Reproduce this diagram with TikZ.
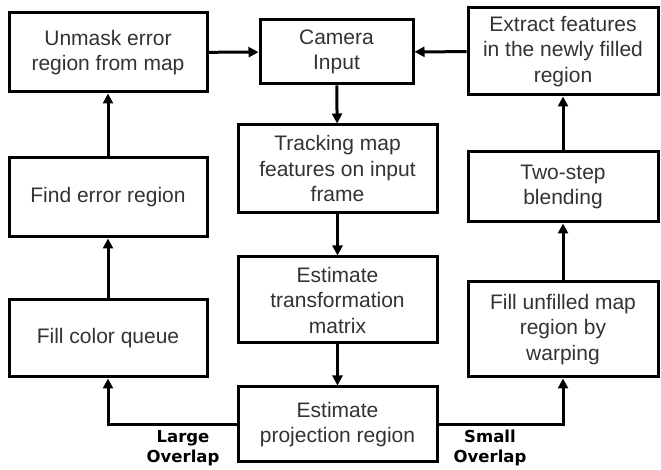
\documentclass[tikz,border=0pt]{standalone}
\usepackage{fontspec}
\setmainfont{Liberation Sans}
\newfontfamily\lblfont{DejaVu Sans}
\usetikzlibrary{arrows.meta}
\definecolor{txt}{HTML}{333333}
\begin{document}
\begin{tikzpicture}[x=1pt,y=1pt,
  box/.style={draw=black,line width=3pt,fill=white,align=center,inner sep=2pt,
    font=\fontsize{21}{25.5}\selectfont,text=txt},
  conn/.style={line width=3pt,-{Triangle[length=10pt,width=10pt]}},
  lbl/.style={align=center,font=\lblfont\bfseries\fontsize{16.5}{20}\selectfont,text=black}]
\useasboundingbox (0,0) rectangle (661,470);
\node[box,minimum width=198,minimum height=79] (unmask) at (108,417.5) {Unmask error\\region from map};
\node[box,minimum width=153,minimum height=64] (camera) at (336.5,418) {Camera\\Input};
\node[box,minimum width=190,minimum height=87] (extract) at (563,418.5) {Extract features\\in the newly filled\\region};
\node[box,minimum width=199,minimum height=88] (tracking) at (337.5,301) {Tracking map\\features on input\\frame};
\node[box,minimum width=198,minimum height=79] (find) at (108,272.5) {Find error region};
\node[box,minimum width=190,minimum height=70] (twostep) at (563,283) {Two-step\\blending};
\node[box,minimum width=199,minimum height=86] (transf) at (337.5,170) {Estimate\\transformation\\matrix};
\node[box,minimum width=198,minimum height=77] (fillcolor) at (108,131.5) {Fill color queue};
\node[box,minimum width=190,minimum height=95] (fillunf) at (563,140.5) {Fill unfilled map\\region by\\warping};
\node[box,minimum width=199,minimum height=75] (proj) at (337.5,45.5) {Estimate\\projection region};
\node[lbl] (large) at (183,22) {Large\\Overlap};
\node[lbl] (small) at (490,22) {Small\\Overlap};
\draw[conn] (find) -- (unmask);
\draw[conn] (unmask) -- (camera);
\draw[conn] (extract) -- (camera);
\draw[conn] (camera) -- (tracking);
\draw[conn] (tracking) -- (transf);
\draw[conn] (transf) -- (proj);
\draw[conn] (proj.west) -| (fillcolor.south);
\draw[conn] (proj.east) -| (fillunf.south);
\draw[conn] (fillcolor) -- (find);
\draw[conn] (fillunf) -- (twostep);
\draw[conn] (twostep) -- (extract);
\end{tikzpicture}
\end{document}
